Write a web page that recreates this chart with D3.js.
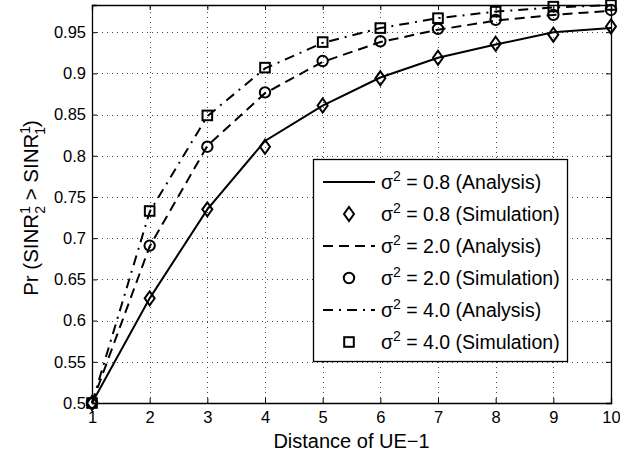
<!DOCTYPE html>
<meta charset="utf-8">
<style>
body { margin: 0; background: #fff; }
text { font-family: "Liberation Sans", Arial, sans-serif; fill: #000; }
.grid line { stroke: #444; stroke-width: 1; stroke-dasharray: 1,4; shape-rendering: crispEdges; }
.line { fill: none; stroke: #000; stroke-width: 2; }
.mark { fill: none; stroke: #000; stroke-width: 2; }
</style>
<body>
<script src="https://d3js.org/d3.v7.min.js"></script>
<script>

var distance = [1, 2, 3, 4, 5, 6, 7, 8, 9, 10];

// sigma^2 = 0.8
var ana08 = [0.5, 0.627, 0.735, 0.818, 0.861, 0.895, 0.919, 0.935, 0.950, 0.955];
var sim08 = [0.5, 0.627, 0.735, 0.811, 0.861, 0.894, 0.919, 0.936, 0.947, 0.957];
// sigma^2 = 2.0
var ana20 = [0.5, 0.690, 0.812, 0.876, 0.914, 0.938, 0.953, 0.964, 0.971, 0.976];
var sim20 = [0.5, 0.691, 0.811, 0.877, 0.915, 0.939, 0.954, 0.965, 0.971, 0.977];
// sigma^2 = 4.0
var ana40 = [0.5, 0.732, 0.848, 0.906, 0.937, 0.955, 0.967, 0.975, 0.980, 0.983];
var sim40 = [0.5, 0.733, 0.849, 0.907, 0.938, 0.955, 0.967, 0.975, 0.981, 0.983];

var yTicks = [0.5, 0.55, 0.6, 0.65, 0.7, 0.75, 0.8, 0.85, 0.9, 0.95];
var xTicks = distance;

var legendLabels = ["0.8 (Analysis)", "0.8 (Simulation)", "2.0 (Analysis)",
                    "2.0 (Simulation)", "4.0 (Analysis)", "4.0 (Simulation)"];

var width = 620, height = 455;
var margin = {top: 5, right: 9, bottom: 52, left: 92};

var svg = d3.select("body").append("svg")
    .attr("width", width)
    .attr("height", height);

var x = d3.scaleLinear().domain([1, 10]).range([margin.left, width - margin.right]);
var y = d3.scaleLinear().domain([0.5, 0.983]).range([height - margin.bottom, margin.top]);

// grid
var grid = svg.append("g").attr("class", "grid");
grid.selectAll(".gx").data(xTicks.slice(1, -1)).enter().append("line")
    .attr("x1", d => Math.round(x(d)) + 0.5).attr("x2", d => Math.round(x(d)) + 0.5)
    .attr("y1", y.range()[0]).attr("y2", y.range()[1]);
grid.selectAll(".gy").data(yTicks.slice(1)).enter().append("line")
    .attr("y1", d => Math.round(y(d)) + 0.5).attr("y2", d => Math.round(y(d)) + 0.5)
    .attr("x1", x.range()[0]).attr("x2", x.range()[1]);

// axes (MATLAB style, ticks inside, on all four sides)
var fmt = d => String(+d.toFixed(2));
var xAxis = svg.append("g").attr("transform", "translate(0," + y(0.5) + ")")
    .call(d3.axisBottom(x).tickValues(xTicks).tickSize(-5).tickPadding(8).tickFormat(d3.format("d")));
var xTop = svg.append("g").attr("transform", "translate(0," + margin.top + ")")
    .call(d3.axisTop(x).tickValues(xTicks).tickSize(-5).tickFormat(""));
var yAxis = svg.append("g").attr("transform", "translate(" + margin.left + ",0)")
    .call(d3.axisLeft(y).tickValues(yTicks).tickSize(-5).tickPadding(6).tickFormat(fmt));
var yRight = svg.append("g").attr("transform", "translate(" + (width - margin.right) + ",0)")
    .call(d3.axisRight(y).tickValues(yTicks).tickSize(-5).tickFormat(""));

[xAxis, xTop, yAxis, yRight].forEach(function(g) {
  g.select(".domain").attr("stroke", "#000").attr("stroke-width", 1.3);
  g.selectAll(".tick line").attr("stroke", "#000");
  g.selectAll("text").style("font-size", "16.5px").attr("fill", "#000")
    .style("font-family", "'Liberation Sans', Arial, sans-serif");
});

// lines
var line = d3.line().x((d, i) => x(distance[i])).y(d => y(d));

var series = [
  {ana: ana08, sim: sim08, dash: null, marker: "diamond"},
  {ana: ana20, sim: sim20, dash: "10,6", marker: "circle"},
  {ana: ana40, sim: sim40, dash: "10,6,2,6", marker: "square"}
];

var plot = svg.append("g");

function drawMarker(g, type, cx, cy) {
  if (type === "diamond") {
    g.append("path").attr("class", "mark")
      .attr("d", "M" + cx + "," + (cy - 7) + "L" + (cx + 5) + "," + cy + "L" + cx + "," + (cy + 7) + "L" + (cx - 5) + "," + cy + "Z");
  } else if (type === "circle") {
    g.append("circle").attr("class", "mark").attr("cx", cx).attr("cy", cy).attr("r", 5.2);
  } else {
    g.append("rect").attr("class", "mark").attr("x", cx - 4.8).attr("y", cy - 4.8).attr("width", 9.6).attr("height", 9.6);
  }
}

series.forEach(function(s) {
  plot.append("path").datum(s.ana).attr("class", "line")
    .attr("stroke-dasharray", s.dash)
    .attr("d", line);
});
series.forEach(function(s) {
  s.sim.forEach(function(v, i) { drawMarker(plot, s.marker, x(distance[i]), y(v)); });
});

// legend
var lg = svg.append("g");
var lx0 = 313, ly0 = 159, lw = 254, lh = 202, rowH = 32;
lg.append("rect").attr("x", lx0 + 0.5).attr("y", ly0 + 0.5).attr("width", lw).attr("height", lh)
  .attr("fill", "#fff").attr("stroke", "#000").attr("stroke-width", 1.3);

legendLabels.forEach(function(lab, i) {
  var cy = ly0 + 23 + i * rowH;
  var s = series[Math.floor(i / 2)];
  if (i % 2 === 0) {
    lg.append("line").attr("class", "line").attr("x1", 323).attr("x2", 375)
      .attr("y1", cy).attr("y2", cy).attr("stroke-dasharray", s.dash);
  } else {
    drawMarker(lg, s.marker, 349, cy);
  }
  var t = lg.append("text").attr("x", 381).attr("y", cy + 7).style("font-size", "19.5px");
  t.append("tspan").text("\u03c3");
  t.append("tspan").attr("dy", -8).style("font-size", "14px").text("2");
  t.append("tspan").attr("dy", 8).text(" = " + lab);
});

// axis labels
svg.append("text").attr("x", (x.range()[0] + x.range()[1]) / 2).attr("y", 448)
  .attr("text-anchor", "middle").style("font-size", "20px").text("Distance of UE\u22121");

var yl = svg.append("text").attr("transform", "translate(38,208) rotate(-90)")
  .attr("text-anchor", "middle").style("font-size", "20.5px");
yl.append("tspan").text("Pr (SINR");
yl.append("tspan").attr("dy", -8).style("font-size", "14px").text("1");
yl.append("tspan").attr("dx", -7.8).attr("dy", 15).style("font-size", "14px").text("2");
yl.append("tspan").attr("dy", -7).text(" > SINR");
yl.append("tspan").attr("dy", -8).style("font-size", "14px").text("1");
yl.append("tspan").attr("dx", -7.8).attr("dy", 15).style("font-size", "14px").text("1");
yl.append("tspan").attr("dy", -7).text(")");

</script>
</body>
